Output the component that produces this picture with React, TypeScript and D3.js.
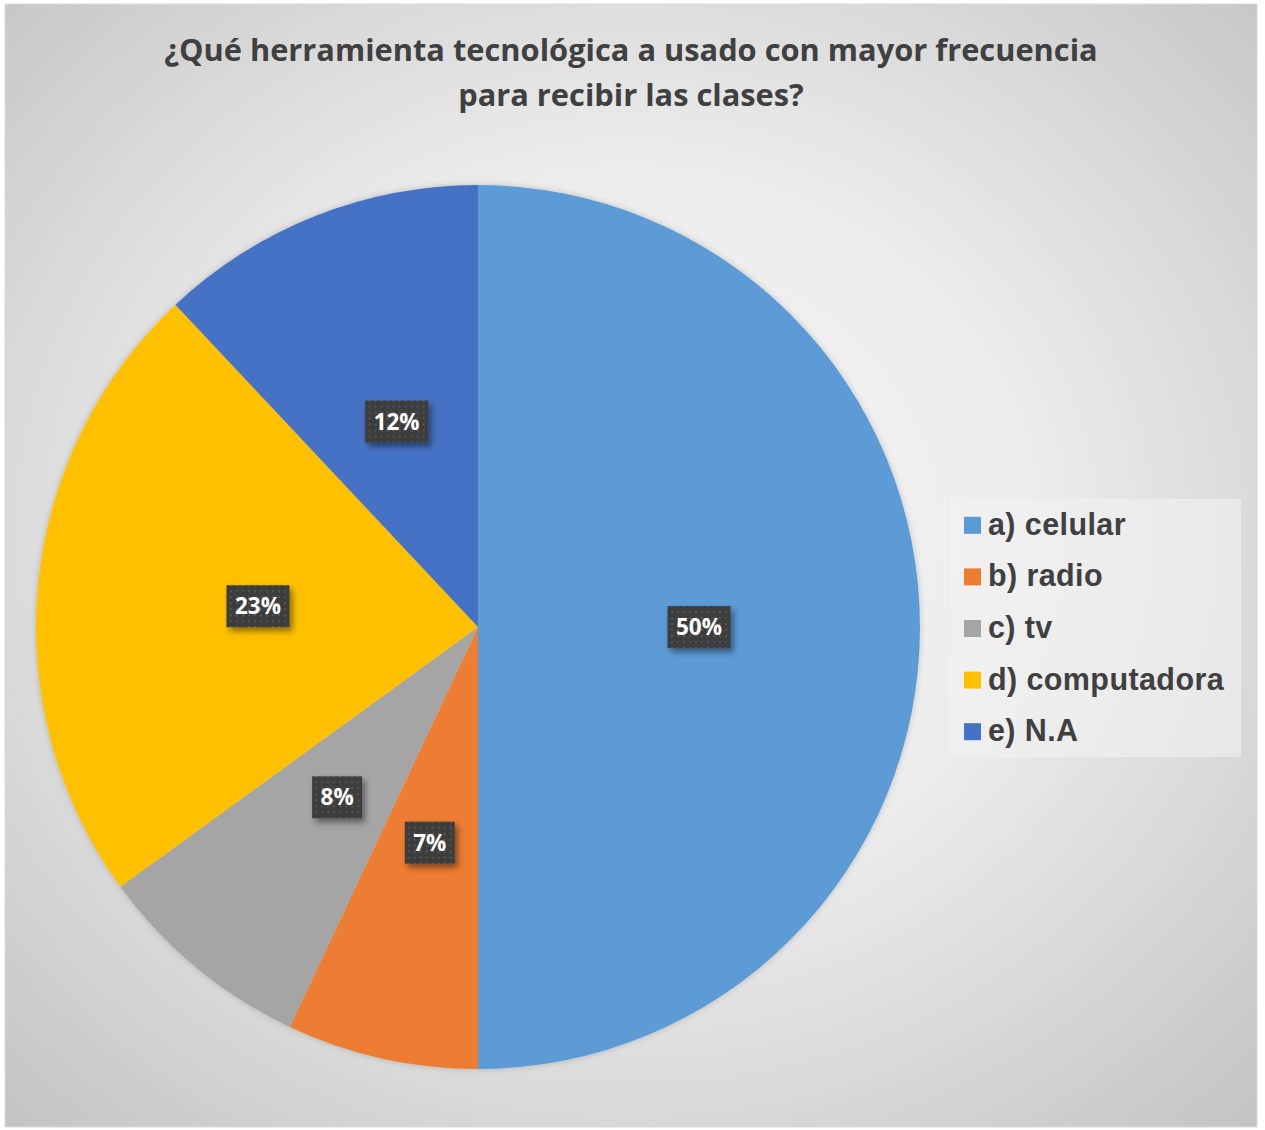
import React from 'react';
import * as d3 from 'd3';

const categories = ['a) celular', 'b) radio', 'c) tv', 'd) computadora', 'e) N.A'];
const values = [50, 7, 8, 23, 12];
const colors = ['#5B9BD5', '#ED7D31', '#A5A5A5', '#FFC000', '#4472C4'];
const titleLines = ['¿Qué herramienta tecnológica a usado con mayor frecuencia', 'para recibir las clases?'];

const W = 1265;
const H = 1130;

const App: React.FC = () => {
  const cx = 478;
  const cy = 627;
  const radius = 442;

  const pie = d3.pie<number>().sort(null).value(d => d);
  const arcs = pie(values);
  const arc = d3.arc<d3.PieArcDatum<number>>().innerRadius(0).outerRadius(radius);

  const legendY = d3.scaleBand<string>()
    .domain(categories)
    .range([499, 757]);

  return (
    <svg width={W} height={H} style={{ position: 'absolute', left: 0, top: 0, display: 'block' }}>
      <defs>
        <radialGradient id="bg" cx="0.5" cy="0.47" r="0.72">
          <stop offset="0" stopColor="#f7f7f7" />
          <stop offset="0.45" stopColor="#ececec" />
          <stop offset="1" stopColor="#c4c4c4" />
        </radialGradient>
        <pattern id="dots" width="6" height="6" patternUnits="userSpaceOnUse">
          <rect width="6" height="6" fill="#3d3d3d" />
          <rect x="2" y="2" width="2" height="2" fill="#555555" />
        </pattern>
        <filter id="shadow" x="-30%" y="-30%" width="170%" height="170%">
          <feDropShadow dx="3" dy="4" stdDeviation="3" floodColor="#000" floodOpacity="0.45" />
        </filter>
        <filter id="pieShadow" x="-10%" y="-10%" width="120%" height="120%">
          <feDropShadow dx="0" dy="0" stdDeviation="3" floodColor="#000" floodOpacity="0.2" />
        </filter>
      </defs>

      <rect x={0} y={0} width={W} height={H} fill="#ffffff" />
      <rect x={5} y={4} width={1252} height={1123} fill="url(#bg)" stroke="#d9d9d9" strokeWidth={1} />

      {titleLines.map((t, i) => (
        <text
          key={t}
          x={631}
          y={61 + i * 45}
          textAnchor="middle"
          fontFamily="'Open Sans', sans-serif"
          fontWeight={700}
          fontSize={30.8}
          fill="#404040"
        >
          {t}
        </text>
      ))}

      <g transform={`translate(${cx},${cy})`}>
        <g filter="url(#pieShadow)">
          {arcs.map((a, i) => (
            <path key={categories[i]} d={arc(a) || ''} fill={colors[i]} />
          ))}
        </g>
        {arcs.map((a, i) => {
          const [lx, ly] = arc.centroid(a);
          const label = `${values[i]}%`;
          const bw = label.length > 2 ? 63 : 50;
          const bh = 42;
          return (
            <g key={`lbl-${categories[i]}`} transform={`translate(${lx},${ly})`}>
              <rect x={-bw / 2} y={-bh / 2} width={bw} height={bh} fill="url(#dots)" filter="url(#shadow)" />
              <text
                x={0}
                y={8}
                textAnchor="middle"
                fontFamily="'Open Sans', sans-serif"
                fontWeight={700}
                fontSize={22.5}
                fill="#ffffff"
              >
                {label}
              </text>
            </g>
          );
        })}
      </g>

      <rect x={950} y={499} width={291} height={258} fill="#f2f2f2" fillOpacity={0.6} />
      {categories.map((c, i) => {
        const yc = (legendY(c) || 0) + legendY.bandwidth() / 2;
        return (
          <g key={`leg-${c}`}>
            <rect x={964} y={yc - 8} width={17} height={17} fill={colors[i]} />
            <text
              x={988}
              y={yc + 10}
              fontFamily="'Liberation Sans', Arial, sans-serif"
              fontWeight={700}
              fontSize={30.5}
              letterSpacing={0.4}
              fill="#404040"
            >
              {c}
            </text>
          </g>
        );
      })}
    </svg>
  );
};

export default App;
